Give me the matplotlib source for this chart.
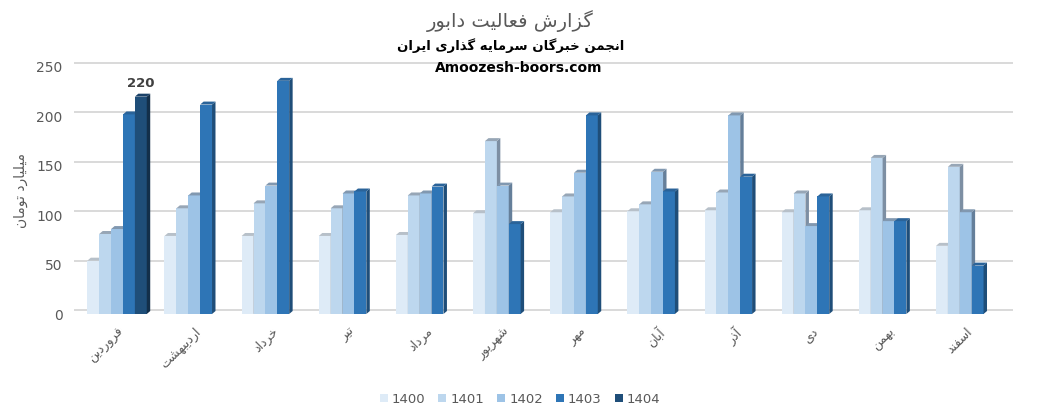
import numpy as np
import matplotlib
matplotlib.use('Agg')
import matplotlib.pyplot as plt
from matplotlib.patches import Polygon

plt.rcParams['font.family'] = ['DejaVu Sans']

# data (billion toman)
months = ['فروردین', 'اردیبهشت', 'خرداد', 'تیر', 'مرداد', 'شهریور',
          'مهر', 'آبان', 'آذر', 'دی', 'بهمن', 'اسفند']
years = ['1400', '1401', '1402', '1403', '1404']
v1400 = [54, 79, 79, 79, 80, 102, 103, 104, 105, 103, 105, 69]
v1401 = [81, 107, 112, 107, 120, 175, 119, 111, 123, 122, 158, 149]
v1402 = [86, 120, 130, 122, 122, 130, 143, 144, 201, 89, 94, 103]
v1403 = [202, 212, 236, 124, 129, 91, 201, 124, 139, 119, 94, 49]
v1404 = [220, None, None, None, None, None, None, None, None, None, None, None]

title = 'گزارش فعالیت دابور'
subtitle = 'انجمن خبرگان سرمایه گذاری ایران'
site = 'Amoozesh-boors.com'
ylabel = 'میلیارد تومان'

front = ['#deebf7', '#bdd7ee', '#9dc3e6', '#2e75b6', '#1f4e79']
side = ['#a9b4bf', '#7d8fa3', '#657f9a', '#1f4e79', '#132f4a']
top = ['#b7c0c9', '#97a6b6', '#8198b0', '#2a6399', '#1a4168']


# --- minimal persian shaping (matplotlib has no bidi / joining) ---
FORMS = {  # isolated, final, initial, medial
    'ا': (0xFE8D, 0xFE8E), 'آ': (0xFE81, 0xFE82),
    'د': (0xFEA9, 0xFEAA), 'ذ': (0xFEAB, 0xFEAC),
    'ر': (0xFEAD, 0xFEAE), 'ز': (0xFEAF, 0xFEB0),
    'و': (0xFEED, 0xFEEE),
    'ب': (0xFE8F, 0xFE90, 0xFE91, 0xFE92), 'ت': (0xFE95, 0xFE96, 0xFE97, 0xFE98),
    'ج': (0xFE9D, 0xFE9E, 0xFE9F, 0xFEA0), 'خ': (0xFEA5, 0xFEA6, 0xFEA7, 0xFEA8),
    'س': (0xFEB1, 0xFEB2, 0xFEB3, 0xFEB4), 'ش': (0xFEB5, 0xFEB6, 0xFEB7, 0xFEB8),
    'ع': (0xFEC9, 0xFECA, 0xFECB, 0xFECC), 'ف': (0xFED1, 0xFED2, 0xFED3, 0xFED4),
    'ل': (0xFEDD, 0xFEDE, 0xFEDF, 0xFEE0), 'م': (0xFEE1, 0xFEE2, 0xFEE3, 0xFEE4),
    'ن': (0xFEE5, 0xFEE6, 0xFEE7, 0xFEE8), 'ه': (0xFEE9, 0xFEEA, 0xFEEB, 0xFEEC),
    'ی': (0xFBFC, 0xFBFD, 0xFBFE, 0xFBFF), 'گ': (0xFB92, 0xFB93, 0xFB94, 0xFB95),
    'ک': (0xFB8E, 0xFB8F, 0xFB90, 0xFB91),
}


def fa(s):
    out = []
    for i, ch in enumerate(s):
        f = FORMS.get(ch)
        if f is None:
            out.append(ch)
            continue
        prev = s[i - 1] if i > 0 else ''
        nxt = s[i + 1] if i + 1 < len(s) else ''
        cp = prev in FORMS and len(FORMS[prev]) == 4
        cn = len(f) == 4 and nxt in FORMS
        if cp and cn:
            code = f[3]
        elif cp:
            code = f[1]
        elif cn:
            code = f[2]
        else:
            code = f[0]
        out.append(chr(code))
    return ''.join(out)[::-1]


series = [v1400, v1401, v1402, v1403, v1404]

fig = plt.figure(figsize=(10.42, 4.12), dpi=100)
ax = fig.add_axes([75 / 1042, 98 / 412, 937 / 1042, 247 / 412])

x = np.arange(len(months))
w = 0.154
dx, dy = 0.045, 3.0  # fake 3d depth

ax.set_xlim(-0.545, 11.6)
ax.set_ylim(0, 250)

# back wall gridlines
for g in np.arange(0, 251, 50):
    ax.plot([-0.545, 11.6], [g + 4, g + 4], color='#d9d9d9', lw=1.4,
            zorder=0, clip_on=False)

for j, vals in enumerate(series):
    xs = [xi + (j - 2) * w for xi, v in zip(x, vals) if v is not None]
    hs = [v for v in vals if v is not None]
    ax.bar(xs, hs, width=w, color=front[j], edgecolor='none', zorder=2,
           label=years[j])
    for xc, h in zip(xs, hs):
        l, r = xc - w / 2, xc + w / 2
        ax.add_patch(Polygon([(r, 0), (r, h), (r + dx, h + dy), (r + dx, dy)],
                             closed=True, fc=side[j], ec='none', zorder=2))
        ax.add_patch(Polygon([(l, h), (r, h), (r + dx, h + dy), (l + dx, h + dy)],
                             closed=True, fc=top[j], ec='none', zorder=2))

# data label on the only 1404 bar
ax.text(x[0] + 2 * w, v1404[0] + 7, '220', ha='center', va='bottom',
        fontsize=9.5, fontweight='bold', color='#404040')

for s in ax.spines.values():
    s.set_visible(False)
ax.set_yticks(np.arange(0, 251, 50))
ax.tick_params(axis='both', length=0, labelsize=10, colors='#595959')
ax.tick_params(axis='y', pad=9)
ax.set_xticks(x)
ax.set_xticklabels([fa(m) for m in months], rotation=45, ha='right',
                   va='top', rotation_mode='anchor', fontsize=9)
ax.tick_params(axis='x', pad=8)

ax.set_ylabel(fa(ylabel), fontsize=10, color='#595959')
ax.yaxis.set_label_coords(-0.05, 0.5)

fig.text(0.49, 0.95, fa(title), ha='center', va='center', fontsize=14,
         color='#595959')
fig.text(0.49, 0.89, fa(subtitle), ha='center', va='center', fontsize=9.5,
         fontweight='bold', color='black')
fig.text(0.498, 0.835, site, ha='center', va='center', fontsize=10,
         fontweight='bold', color='black')

leg = ax.legend(loc='upper center', bbox_to_anchor=(0.475, -0.27), ncol=5,
                frameon=False, fontsize=9.5, handlelength=0.6, handleheight=0.6,
                handletextpad=0.3, columnspacing=1.0)
for t in leg.get_texts():
    t.set_color('#595959')

fig.savefig('out.png', dpi=100)
